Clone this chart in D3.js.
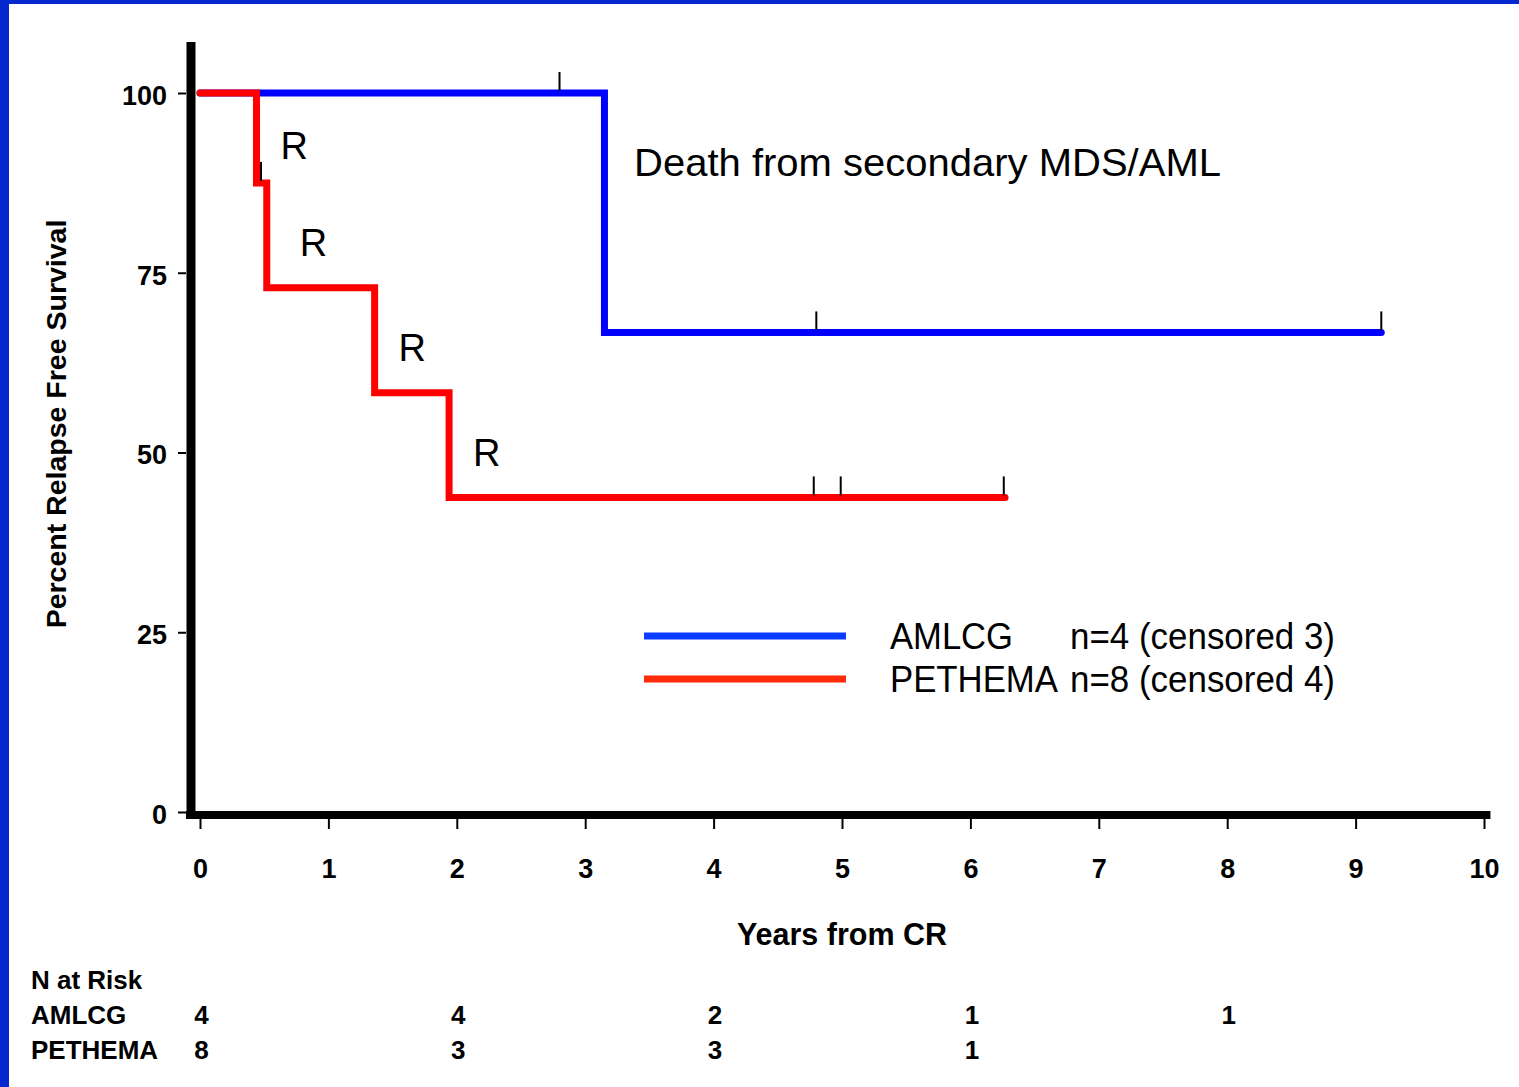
<!DOCTYPE html>
<html>
<head>
<meta charset="utf-8">
<script src="https://cdn.jsdelivr.net/npm/d3@7"></script>
<style>
  body { margin: 0; background: #fff; }
  svg { display: block; font-family: "Liberation Sans", Arial, sans-serif; }
</style>
</head>
<body>
<div id="container"></div>
<script>
const WIDTH = 1519;
const HEIGHT = 1087;

// data
const xTicks = [0, 1, 2, 3, 4, 5, 6, 7, 8, 9, 10];
const yTicks = [0, 25, 50, 75, 100];

const amlcgTimes = [0, 3.15];
const amlcgLevels = [100, 66.7];
const amlcgEnd = 9.2;
const amlcgCensored = [2.8, 4.8, 9.2];

const pethemaTimes = [0, 0.44, 0.52, 1.36, 1.94];
const pethemaLevels = [100, 87.5, 72.9, 58.3, 43.75];
const pethemaEnd = 6.27;
const pethemaCensored = [0.475, 4.78, 4.99, 6.26];
const relapseTimes = [0.44, 0.52, 1.36, 1.94];

const riskTimes = [0, 2, 4, 6, 8];
const riskAmlcg = [4, 4, 2, 1, 1];
const riskPethema = [8, 3, 3, 1];

const x = d3.scaleLinear().domain([0, 10]).range([200, 1484]);
const y = d3.scaleLinear().domain([0, 100]).range([812, 93]);

const svg = d3.select('#container')
  .append('svg')
    .attr('width', WIDTH)
    .attr('height', HEIGHT);

// blue frame on top and left
svg.append('rect').attr('x', 0).attr('y', 0).attr('width', WIDTH).attr('height', 4).attr('fill', '#0328d0');
svg.append('rect').attr('x', 0).attr('y', 0).attr('width', 9).attr('height', HEIGHT).attr('fill', '#0328d0');

// axes
const yAxis = svg.append('g')
  .attr('transform', 'translate(186,0)')
  .call(d3.axisLeft(y).tickValues(yTicks).tickSize(8).tickPadding(11));
const xAxis = svg.append('g')
  .attr('transform', 'translate(0,819)')
  .call(d3.axisBottom(x).tickValues(xTicks).tickSize(10).tickPadding(30));

[yAxis, xAxis].forEach(ax => {
  ax.select('.domain').remove();
  ax.selectAll('line').attr('stroke', '#000').attr('stroke-width', 2);
  ax.selectAll('text')
    .attr('fill', '#000')
    .style('font-size', '27px')
    .style('font-weight', 'bold')
    .style('font-family', '"Liberation Sans", Arial, sans-serif');
});
yAxis.selectAll('text').attr('dy', '0.42em');

svg.append('line')
  .attr('x1', 191).attr('x2', 191)
  .attr('y1', y(107.1)).attr('y2', 819)
  .attr('stroke', '#000').attr('stroke-width', 9);
svg.append('line')
  .attr('x1', 186).attr('x2', x(10.05))
  .attr('y1', 815).attr('y2', 815)
  .attr('stroke', '#000').attr('stroke-width', 8);

// survival curves
const stepPoints = (times, levels, end) => {
  const pts = times.map((t, i) => [t, levels[i]]);
  pts.push([end, levels[levels.length - 1]]);
  return pts;
};
const levelAt = (times, levels, t) => {
  let v = levels[0];
  times.forEach((tt, i) => { if (tt <= t) v = levels[i]; });
  return v;
};

const line = d3.line()
  .x(d => x(d[0]))
  .y(d => y(d[1]))
  .curve(d3.curveStepAfter);

const series = [
  { times: amlcgTimes, levels: amlcgLevels, end: amlcgEnd, censored: amlcgCensored, color: '#0000ff' },
  { times: pethemaTimes, levels: pethemaLevels, end: pethemaEnd, censored: pethemaCensored, color: '#ff0000' }
];

series.forEach(s => {
  svg.append('path')
    .datum(stepPoints(s.times, s.levels, s.end))
    .attr('d', line)
    .attr('fill', 'none')
    .attr('stroke', s.color)
    .attr('stroke-width', 7)
    .attr('stroke-linecap', 'round')
    .attr('stroke-linejoin', 'miter');
});

series.forEach(s => {
  svg.selectAll(null)
    .data(s.censored)
    .enter()
    .append('line')
    .attr('x1', t => x(t)).attr('x2', t => x(t))
    .attr('y1', t => y(levelAt(s.times, s.levels, t)) - 2)
    .attr('y2', t => y(levelAt(s.times, s.levels, t)) - 21)
    .attr('stroke', '#000')
    .attr('stroke-width', 2);
});

// relapse markers
svg.selectAll('.rlabel')
  .data(relapseTimes)
  .enter()
  .append('text')
  .attr('class', 'rlabel')
  .attr('x', (t, i) => x(t) + (i === 1 ? 33 : 24))
  .attr('y', t => {
    const before = levelAt(pethemaTimes, pethemaLevels, t - 0.001);
    const after = levelAt(pethemaTimes, pethemaLevels, t);
    return (y(before) + y(after)) / 2 + 21;
  })
  .style('font-size', '38px')
  .text('R');

svg.append('text')
  .attr('x', 634).attr('y', 176)
  .attr('textLength', 587).attr('lengthAdjust', 'spacingAndGlyphs')
  .style('font-size', '39px')
  .text('Death from secondary MDS/AML');

// legend
const legend = [
  { name: 'AMLCG', n: 'n=4 (censored 3)', color: '#0a3cff', y: 636 },
  { name: 'PETHEMA', n: 'n=8 (censored 4)', color: '#ff2a0a', y: 679 }
];
legend.forEach(l => {
  svg.append('line')
    .attr('x1', 644).attr('x2', 846)
    .attr('y1', l.y).attr('y2', l.y)
    .attr('stroke', l.color).attr('stroke-width', 7);
  svg.append('text')
    .attr('x', 890).attr('y', l.y + 13)
    .attr('textLength', l.name === 'AMLCG' ? 123 : 168).attr('lengthAdjust', 'spacingAndGlyphs')
    .style('font-size', '36px')
    .text(l.name);
  svg.append('text')
    .attr('x', 1070).attr('y', l.y + 13)
    .attr('textLength', 265).attr('lengthAdjust', 'spacingAndGlyphs')
    .style('font-size', '36px')
    .text(l.n);
});

// axis titles
svg.append('text')
  .attr('transform', 'translate(66,424) rotate(-90)')
  .attr('text-anchor', 'middle')
  .style('font-size', '28.5px')
  .style('font-weight', 'bold')
  .text('Percent Relapse Free Survival');

svg.append('text')
  .attr('x', 842).attr('y', 945)
  .attr('text-anchor', 'middle')
  .style('font-size', '30.5px')
  .style('font-weight', 'bold')
  .text('Years from CR');

// numbers at risk
const risk = svg.append('g')
  .style('font-size', '26px')
  .style('font-weight', 'bold');
risk.append('text').attr('x', 31).attr('y', 989).text('N at Risk');
risk.append('text').attr('x', 31).attr('y', 1024).text('AMLCG');
risk.append('text').attr('x', 31).attr('y', 1059).text('PETHEMA');
risk.selectAll('.ra')
  .data(riskAmlcg)
  .enter()
  .append('text')
  .attr('x', (d, i) => x(riskTimes[i]) + 1.5)
  .attr('y', 1024)
  .attr('text-anchor', 'middle')
  .text(d => d);
risk.selectAll('.rp')
  .data(riskPethema)
  .enter()
  .append('text')
  .attr('x', (d, i) => x(riskTimes[i]) + 1.5)
  .attr('y', 1059)
  .attr('text-anchor', 'middle')
  .text(d => d);
</script>
</body>
</html>
